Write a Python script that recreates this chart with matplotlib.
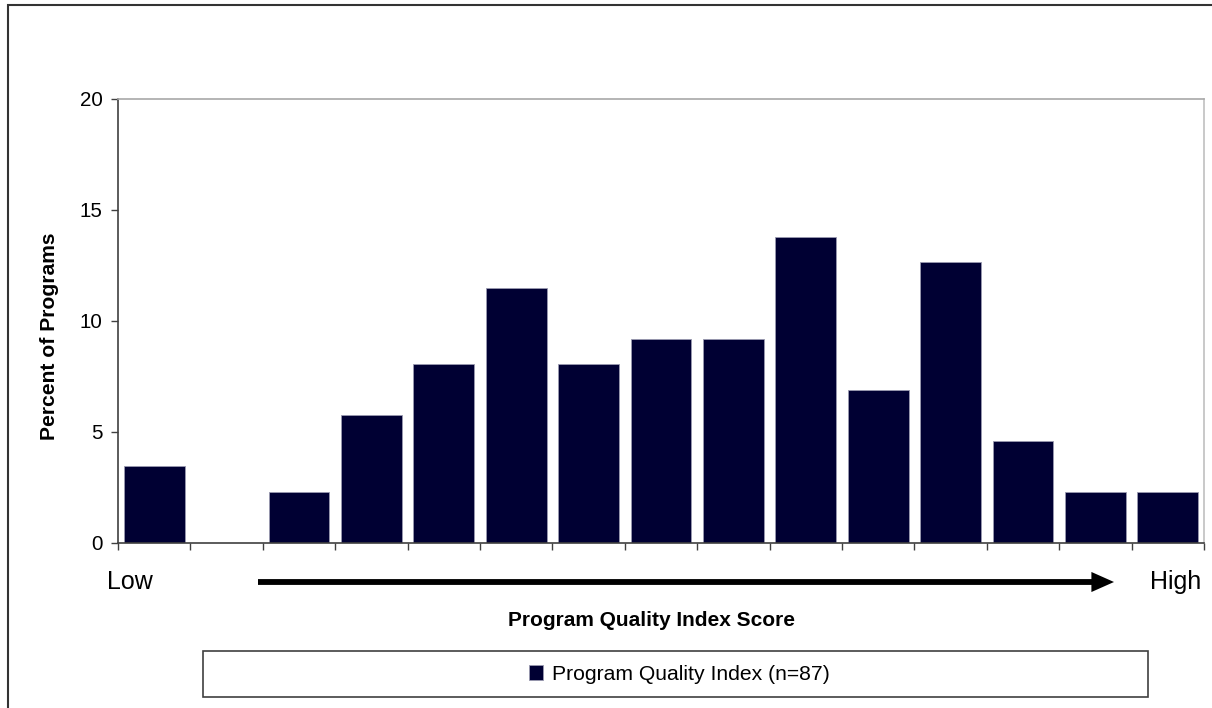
import matplotlib
matplotlib.use("Agg")
import matplotlib.pyplot as plt
import numpy as np
from matplotlib.patches import Rectangle, Patch

plt.rcParams['font.family'] = ['Liberation Sans', 'DejaVu Sans']

# program counts per score bin (n=87), shown as percent
n_programs = 87
counts = [3, 0, 2, 5, 7, 10, 7, 8, 8, 12, 6, 11, 4, 2, 2]
percents = [c / n_programs * 100 for c in counts]
y_ticks = [0, 5, 10, 15, 20]
bar_color = "#000033"

W, H = 1212, 708
fig = plt.figure(figsize=(W / 100, H / 100), dpi=100)

def fx(px):
    return px / W

def fy(py):
    return 1 - py / H

ax = fig.add_axes([fx(118), fy(543), fx(1204) - fx(118), fy(99) - fy(543)])

x = np.arange(len(percents))
ax.bar(x, percents, width=0.84, color=bar_color, edgecolor="#9a9ab0", linewidth=0.6, zorder=2)

ax.set_xlim(-0.5, len(percents) - 0.5)
ax.set_ylim(0, 20)
ax.set_yticks(y_ticks)
ax.set_xticks(np.arange(len(percents) + 1) - 0.5)
ax.set_xticklabels([])
ax.tick_params(axis="both", direction="out", length=5, width=1, color="#404040",
               labelsize=14.8, pad=6)

ax.spines["left"].set_color("#404040")
ax.spines["bottom"].set_color("#404040")
ax.spines["top"].set_color("#a8a8a8")
ax.spines["right"].set_color("#c0c0c0")
for s in ax.spines.values():
    s.set_linewidth(1.2)

fig.text(fx(50), fy(336), "Percent of Programs", fontsize=15.2, fontweight="bold",
         rotation=90, ha="center", va="center")

# Low -> High arrow under the axis
fig.text(fx(107), fy(582), "Low", fontsize=18, ha="left", va="center")
fig.text(fx(1201), fy(582), "High", fontsize=18, ha="right", va="center")
ax.annotate("", xy=(fx(1114), fy(582)), xytext=(fx(258), fy(582)),
            xycoords="figure fraction", textcoords="figure fraction",
            arrowprops=dict(arrowstyle="-|>,head_length=0.9,head_width=0.4",
                            color="black", lw=4.2, shrinkA=0, shrinkB=0,
                            capstyle="butt", joinstyle="miter"))

fig.text(fx(651), fy(620), "Program Quality Index Score", fontsize=15, fontweight="bold",
         ha="center", va="center")

# legend box
fig.add_artist(Rectangle((fx(203), fy(697)), fx(1148) - fx(203), fy(651) - fy(697),
                         transform=fig.transFigure, facecolor="white", edgecolor="#404040",
                         linewidth=1.2))
fig.legend(handles=[Patch(facecolor=bar_color, edgecolor="#9a9ab0", linewidth=0.6)],
           labels=["Program Quality Index (n=87)"], loc="center",
           bbox_to_anchor=(fx(679), fy(674)), frameon=False, fontsize=15.2,
           handlelength=0.7, handleheight=0.7, handletextpad=0.4)

# outer chart frame
fig.add_artist(Rectangle((fx(8), fy(760)), fx(1300) - fx(8), fy(5) - fy(760),
                         transform=fig.transFigure, facecolor="none", edgecolor="#333333",
                         linewidth=1.5, clip_on=False))

fig.savefig("out.png", dpi=100)
